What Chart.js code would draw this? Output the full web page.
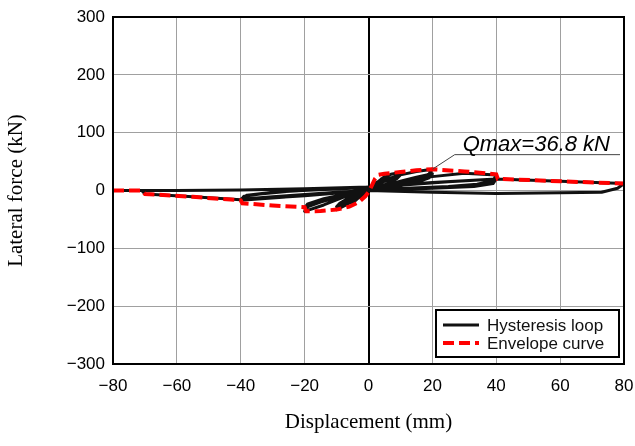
<!DOCTYPE html>
<html>
<head>
<meta charset="utf-8">
<script src="https://cdn.jsdelivr.net/npm/chart.js@4"></script>
<style>
  body { margin: 0; background: #fff; }
  #wrap { width: 635px; height: 446px; }
</style>
</head>
<body>
<div id="wrap"><canvas id="hystChart" width="635" height="446"></canvas></div>
<script>
// displacement ticks (mm) and lateral force ticks (kN)
const xTicks = [-80, -60, -40, -20, 0, 20, 40, 60, 80];
const yTicks = [-300, -200, -100, 0, 100, 200, 300];

// measured load path, cycle by cycle
const hystX = [
  0, 1, 2.5, 2, 1, 0, -1, -2.5, -2, -1, 0,                                   // +-2.5
  1, 2.5, 5, 4.5, 3, 1.5, 0, -1.5, -3, -5, -4.5, -3, -1.5, 0,                 // +-5
  2, 4, 7, 10, 9, 7, 4, 1, 0, -2, -4, -7, -10, -9, -7, -4, -1, 0,             // +-10 (1)
  3, 6, 10, 9, 6, 2, 0, -3, -6, -10, -9, -6, -2, 0,                           // +-10 (2)
  2, 5, 10, 15, 20, 19, 16, 11, 5, 0, -3, -8, -14, -20, -19, -16, -11, -5, 0, // +-20 (1)
  5, 10, 15, 20, 19, 15, 8, 0, -5, -10, -15, -20, -19, -14, -7, 0,           // +-20 (2)
  5, 10, 20, 30, 40, 39, 34, 25, 12, 0, -8, -18, -28, -40,                   // +-40 (1)
  -39, -34, -24, -12, 0, 12, 25, 40, 39, 33, 20, 5, 0, -10, -20, -30, -40,   // +-40 (2)
  -38, -30, -18, -5, 0,
  20, 40, 60, 80, 78, 73, 60, 40, 20, 0,                                     // +80
  -20, -40, -55, -70, -71, -80, -76, -60, -40, -20, 0                        // -80
];
const hystY = [
  0, 6, 14, 10, 4, 1, -5, -12, -8, -3, 0,
  5, 13, 24, 19, 11, 4, 0, -5, -12, -22, -16, -9, -3, 1,
  8, 20, 28, 31, 24, 15, 7, 2, 0, -6, -15, -25, -33, -26, -17, -8, -2, 0,
  10, 20, 27, 21, 12, 3, 0, -8, -18, -28, -22, -12, -3, 0,
  6, 16, 27, 33, 36.8, 29, 20, 11, 5, 1, -3, -12, -25, -36, -28, -19, -11, -4, 1,
  8, 16, 23, 29, 22, 14, 6, 1, -5, -12, -20, -30, -23, -14, -6, 0,
  8, 15, 24, 30, 27, 17, 11, 7, 4, 1, -3, -8, -12, -17,
  -10, -6, -1, 2, 5, 10, 15, 20, 12, 7, 4, 1, 0, -3, -7, -11, -15,
  -8, -3, 1, 4, 6,
  14, 20, 16, 12, 4, -3, -4, -5, -3, 0,
  -9, -16, -11, -6, 0, 0, 0, 0, 1, 3, 6
];

// skeleton (envelope) curve
const envX = [-80, -71, -70, -55, -40, -39.5, -30, -20, -19.5, -15, -10, -6, -3, -1, 0, 1, 2, 3, 5, 10, 15, 20, 30, 40, 40.5, 60, 80];
const envY = [0, 0, -6, -11, -17, -22, -26, -29, -36, -35.5, -33, -28, -20, -10, -3, 8, 20, 27, 29, 32, 35, 36.8, 33, 28, 20, 16, 12];

const qmaxLabel = "Qmax=36.8 kN";
const qmaxX = 20;
const qmaxY = 36.8;

const toPoints = (xs, ys) => xs.map((x, i) => ({ x: x, y: ys[i] }));

const fmt = v => (v < 0 ? "\u2212" + Math.abs(v) : String(v));

// frame, Qmax callout and legend box
const extras = {
  id: "extras",
  afterDatasetsDraw(chart) {
    const { ctx, chartArea, scales } = chart;
    const px = scales.x.getPixelForValue(qmaxX);
    const py = scales.y.getPixelForValue(qmaxY);
    const lineY = scales.y.getPixelForValue(62);
    const lineX0 = scales.x.getPixelForValue(27);
    const lineX1 = chartArea.right - 4;

    ctx.save();
    ctx.strokeStyle = "#444";
    ctx.lineWidth = 1;
    ctx.beginPath();
    ctx.moveTo(px, py);
    ctx.lineTo(lineX0, lineY);
    ctx.lineTo(lineX1, lineY);
    ctx.stroke();

    ctx.fillStyle = "#000";
    ctx.font = "italic 22px 'Liberation Sans', Arial, sans-serif";
    ctx.textAlign = "right";
    ctx.textBaseline = "alphabetic";
    ctx.fillText(qmaxLabel, lineX1 - 10, lineY - 4);

    // legend
    const bx = 436, by = 310, bw = 183, bh = 47;
    ctx.fillStyle = "#fff";
    ctx.fillRect(bx, by, bw, bh);
    ctx.strokeStyle = "#000";
    ctx.lineWidth = 2;
    ctx.strokeRect(bx, by, bw, bh);

    chart.data.datasets.forEach((ds, i) => {
      const y = by + 15 + i * 18;
      ctx.beginPath();
      ctx.strokeStyle = ds.borderColor;
      ctx.lineWidth = ds.borderWidth;
      ctx.setLineDash(ds.borderDash || []);
      ctx.moveTo(bx + 7, y);
      ctx.lineTo(bx + 43, y);
      ctx.stroke();
      ctx.setLineDash([]);
      ctx.fillStyle = "#111";
      ctx.font = "17px 'Liberation Sans', Arial, sans-serif";
      ctx.textAlign = "left";
      ctx.textBaseline = "middle";
      ctx.fillText(ds.label, bx + 51, y + 1);
    });

    ctx.strokeStyle = "#000";
    ctx.lineWidth = 2;
    ctx.strokeRect(chartArea.left, chartArea.top, chartArea.right - chartArea.left, chartArea.bottom - chartArea.top);
    ctx.restore();
  }
};

new Chart(document.getElementById("hystChart"), {
  type: "scatter",
  data: {
    datasets: [
      {
        label: "Hysteresis loop",
        data: toPoints(hystX, hystY),
        showLine: true,
        borderColor: "#111",
        borderWidth: 3,
        pointRadius: 0,
        tension: 0,
        borderJoinStyle: "round",
        order: 2
      },
      {
        label: "Envelope curve",
        data: toPoints(envX, envY),
        showLine: true,
        borderColor: "#ff0000",
        borderWidth: 4,
        borderDash: [11, 5],
        pointRadius: 0,
        tension: 0,
        order: 1
      }
    ]
  },
  options: {
    responsive: false,
    animation: false,
    layout: { padding: { top: 17, right: 11, left: 0, bottom: 0 } },
    plugins: { legend: { display: false }, tooltip: { enabled: false } },
    scales: {
      x: {
        type: "linear",
        min: -80,
        max: 80,
        afterBuildTicks: s => { s.ticks = xTicks.map(v => ({ value: v })); },
        afterFit: s => { s.height = 82; s.paddingLeft = 0; s.paddingRight = 0; },
        grid: {
          color: c => (c.tick && c.tick.value === 0 ? "#000" : "#a0a0a0"),
          lineWidth: c => (c.tick && c.tick.value === 0 ? 2 : 1),
          drawTicks: false
        },
        border: { color: "#000", width: 2 },
        ticks: {
          padding: 12,
          color: "#000",
          font: { family: "'Liberation Sans', Arial, sans-serif", size: 17 },
          maxRotation: 0,
          callback: v => fmt(v)
        },
        title: {
          display: true,
          text: "Displacement (mm)",
          color: "#000",
          font: { family: "'Liberation Serif', 'Times New Roman', serif", size: 21 },
          padding: 11
        }
      },
      y: {
        type: "linear",
        min: -300,
        max: 300,
        afterBuildTicks: s => { s.ticks = yTicks.map(v => ({ value: v })); },
        afterFit: s => { s.width = 113; s.paddingTop = 0; s.paddingBottom = 0; },
        grid: {
          color: "#a0a0a0",
          lineWidth: 1,
          drawTicks: false
        },
        border: { color: "#000", width: 2 },
        ticks: {
          padding: 8,
          color: "#000",
          font: { family: "'Liberation Sans', Arial, sans-serif", size: 17 },
          callback: v => fmt(v)
        },
        title: {
          display: true,
          text: "Lateral force (kN)",
          color: "#000",
          font: { family: "'Liberation Serif', 'Times New Roman', serif", size: 21 },
          padding: 4
        }
      }
    }
  },
  plugins: [extras]
});
</script>
</body>
</html>
